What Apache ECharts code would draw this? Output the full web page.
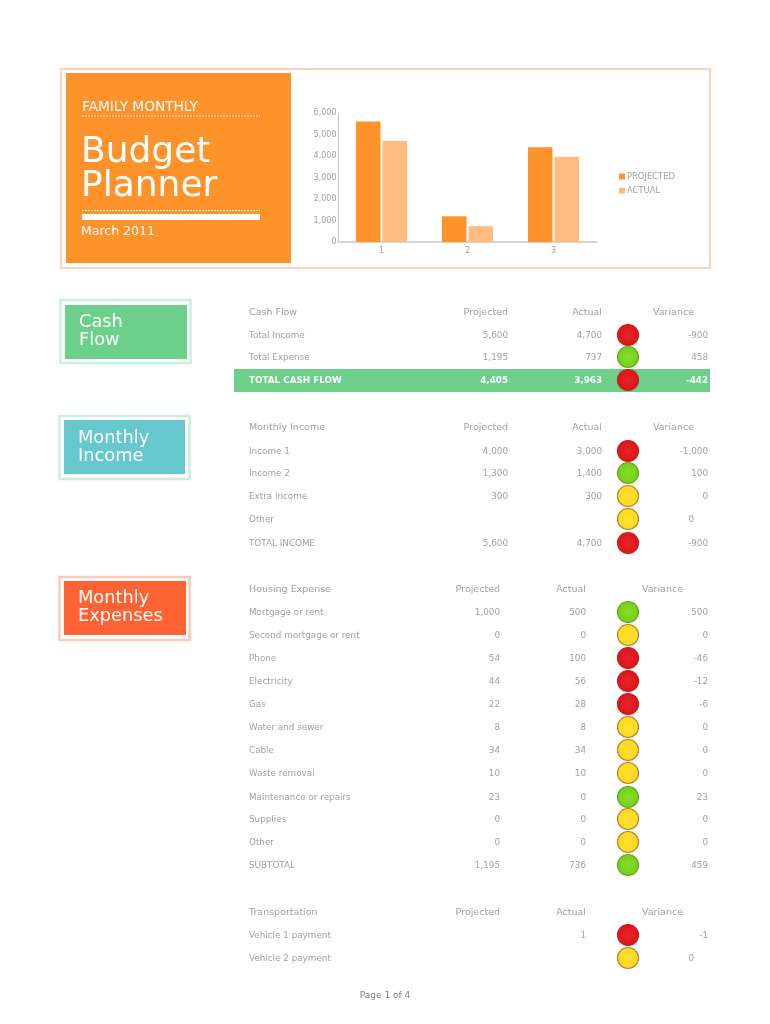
<!DOCTYPE html>
<html><head><meta charset="utf-8">
<style>html,body{margin:0;padding:0;background:#fff}#c{width:770px;height:1024px}</style>
<script src="https://cdn.jsdelivr.net/npm/echarts@6/dist/echarts.min.js"></script>
</head><body><div id="c"></div>
<script>
// ---- data ----
const chartCategories = ['1','2','3'];
const chartProjected = [5600,1195,4405];
const chartActual = [4700,737,3963];

const cashFlowHeader = ['Cash Flow','Projected','Actual','Variance'];
const cashFlowLabels = ['Total Income','Total Expense','TOTAL CASH FLOW'];
const cashFlowProjected = [5600,1195,4405];
const cashFlowActual = [4700,737,3963];
const cashFlowVariance = [-900,458,-442];

const incomeHeader = ['Monthly Income','Projected','Actual','Variance'];
const incomeLabels = ['Income 1','Income 2','Extra income','Other','TOTAL INCOME'];
const incomeProjected = [4000,1300,300,null,5600];
const incomeActual = [3000,1400,300,null,4700];
const incomeVariance = [-1000,100,0,0,-900];

const housingHeader = ['Housing Expense','Projected','Actual','Variance'];
const housingLabels = ['Mortgage or rent','Second mortgage or rent','Phone','Electricity','Gas','Water and sewer','Cable','Waste removal','Maintenance or repairs','Supplies','Other','SUBTOTAL'];
const housingProjected = [1000,0,54,44,22,8,34,10,23,0,0,1195];
const housingActual = [500,0,100,56,28,8,34,10,0,0,0,736];
const housingVariance = [500,0,-46,-12,-6,0,0,0,23,0,0,459];

const transportHeader = ['Transportation','Projected','Actual','Variance'];
const transportLabels = ['Vehicle 1 payment','Vehicle 2 payment'];
const transportProjected = [null,null];
const transportActual = [1,null];
const transportVariance = [-1,0];

// ---- layout ----
const sections = [
 {h:cashFlowHeader,l:cashFlowLabels,p:cashFlowProjected,a:cashFlowActual,v:cashFlowVariance,hy:312,ys:[335,357,380],px:508,ax:602,hv:694,boldLast:true},
 {h:incomeHeader,l:incomeLabels,p:incomeProjected,a:incomeActual,v:incomeVariance,hy:427,ys:[451,473,496,519,543],px:508,ax:602,hv:694},
 {h:housingHeader,l:housingLabels,p:housingProjected,a:housingActual,v:housingVariance,hy:589,ys:[612,635,658,681,704,727,750,773,797,819,842,865],px:500,ax:586,hv:683},
 {h:transportHeader,l:transportLabels,p:transportProjected,a:transportActual,v:transportVariance,hy:912,ys:[935,958],px:500,ax:586,hv:683}
];
const FONT='"DejaVu Sans"';
const GREY='#a2a2a2';
const fmt=n=>n==null?'':n.toLocaleString('en-US');
const gfx=[];
const rect=(x,y,w,h,fill,z)=>gfx.push({type:'rect',silent:true,z:z||1,shape:{x,y,width:w,height:h},style:{fill}});
const frame=(x,y,w,h,stroke,lw)=>gfx.push({type:'rect',silent:true,z:1,shape:{x,y,width:w,height:h},style:{fill:'none',stroke,lineWidth:lw}});
const text=(s,x,y,size,fill,align,weight)=>gfx.push({type:'text',silent:true,z:5,x,y,style:{text:s,fill,font:(weight||'normal')+' '+size+'px '+FONT,textAlign:align||'left',textVerticalAlign:'middle'}});
const dash=(x1,x2,y)=>gfx.push({type:'line',silent:true,z:3,shape:{x1,y1:y,x2,y2:y},style:{stroke:'#fff',lineWidth:1.2,lineDash:[2,1],opacity:.85}});
const glow=(c,e)=>({type:'radial',x:.5,y:.5,r:.5,colorStops:[{offset:0,color:c},{offset:1,color:e}]});

// header block
frame(61,69,649,199,'#FFD5B3',2);
rect(66,73,225,190,'#FF932B');
text('FAMILY MONTHLY',82,107.5,13.7,'#fff');
dash(82,260,116);
text('Budget',81,152.5,36,'#fff');
text('Planner',81,186.5,36,'#fff');
dash(82,260,210.5);
rect(82,214,178,6,'#fff',3);
text('March 2011',81,232,12.5,'#fff');

// section tabs
[[60.5,300,130,63,'#C9EFE0','#6CD08A',65,305,122,54,['Cash','Flow'],79,322.5],
 [59.5,416,130,63,'#C9EFE0','#66C8CC',64,420,121,54,['Monthly','Income'],78,438.5],
 [59.5,577,130,63,'#FFC9B5','#FF6233',64,581,122,54,['Monthly','Expenses'],78,598.5]
].forEach(t=>{
  frame(t[0],t[1],t[2],t[3],t[4],2.5);
  rect(t[6],t[7],t[8],t[9],t[5]);
  text(t[10][0],t[11],t[12],17.8,'#fff');
  text(t[10][1],t[11],t[12]+17.5,17.8,'#fff');
});

// highlighted total row
rect(234,369,476,23,'#6CD08A');

// tables
const dots=[];
sections.forEach(s=>{
  text(s.h[0],249,s.hy+1,9.5,GREY);
  text(s.h[1],s.px,s.hy+1,9.5,GREY,'right');
  text(s.h[2],s.ax,s.hy+1,9.5,GREY,'right');
  text(s.h[3],s.hv,s.hy+1,9.5,GREY,'right');
  s.l.forEach((lab,i)=>{
    const y=s.ys[i],b=s.boldLast&&i===s.l.length-1,c=b?'#fff':GREY,w=b?'bold':'normal',ty=y+1;
    text(lab,249,ty,8.8,c,'left',w);
    text(fmt(s.p[i]),s.px,ty,8.8,c,'right',w);
    text(fmt(s.a[i]),s.ax,ty,8.8,c,'right',w);
    const blank=s.p[i]==null&&s.v[i]===0;
    text(fmt(s.v[i]),blank?694:708,ty,8.8,c,'right',w);
    const v=s.v[i];
    dots.push({value:[628,y],itemStyle:v<0?{color:glow('#E7252A','#DD1318'),borderColor:'#C8201C'}:v>0?{color:glow('#86DE28','#72CF18'),borderColor:'#69A425'}:{color:glow('#FFE030','#FFD81F'),borderColor:'#B5862A'}});
  });
});
text('Page 1 of 4',385,996,9,'#808080','center');

const chart=echarts.init(document.getElementById('c'),null,{renderer:'canvas'});
chart.setOption({
  animation:false,
  textStyle:{fontFamily:FONT},
  grid:[
    {left:338.5,top:113,width:258,height:129},
    {left:0,top:0,width:770,height:1024}
  ],
  xAxis:[
    {gridIndex:0,type:'category',data:chartCategories,axisTick:{show:false},
     axisLine:{lineStyle:{color:'#c9c9c9',width:1.5}},axisLabel:{color:'#a2a2a2',fontSize:8,margin:5}},
    {gridIndex:1,type:'value',min:0,max:770,show:false}
  ],
  yAxis:[
    {gridIndex:0,type:'value',min:0,max:6000,interval:1000,splitLine:{show:false},
     axisLine:{show:true,lineStyle:{color:'#c9c9c9',width:1.2}},axisTick:{show:false},
     axisLabel:{color:'#a2a2a2',fontSize:8,margin:2,formatter:v=>v.toLocaleString('en-US')}},
    {gridIndex:1,type:'value',min:0,max:1024,inverse:true,show:false}
  ],
  legend:{left:619,top:172.5,orient:'vertical',itemWidth:6,itemHeight:6,itemGap:6.2,icon:'rect',
    textStyle:{color:'#a2a2a2',fontSize:8.4,padding:[0,0,0,-3]},padding:0,data:['PROJECTED','ACTUAL']},
  graphic:{elements:gfx},
  series:[
    {name:'PROJECTED',type:'bar',xAxisIndex:0,yAxisIndex:0,data:chartProjected,barWidth:24.5,barGap:'8%',itemStyle:{color:'#FF932B'}},
    {name:'ACTUAL',type:'bar',xAxisIndex:0,yAxisIndex:0,data:chartActual,barWidth:24.5,itemStyle:{color:'#FFBB80'}},
    {name:'status',type:'scatter',xAxisIndex:1,yAxisIndex:1,data:dots,symbolSize:21,z:10,silent:true,itemStyle:{borderWidth:1.2,opacity:1}}
  ]
});
</script></body></html>
